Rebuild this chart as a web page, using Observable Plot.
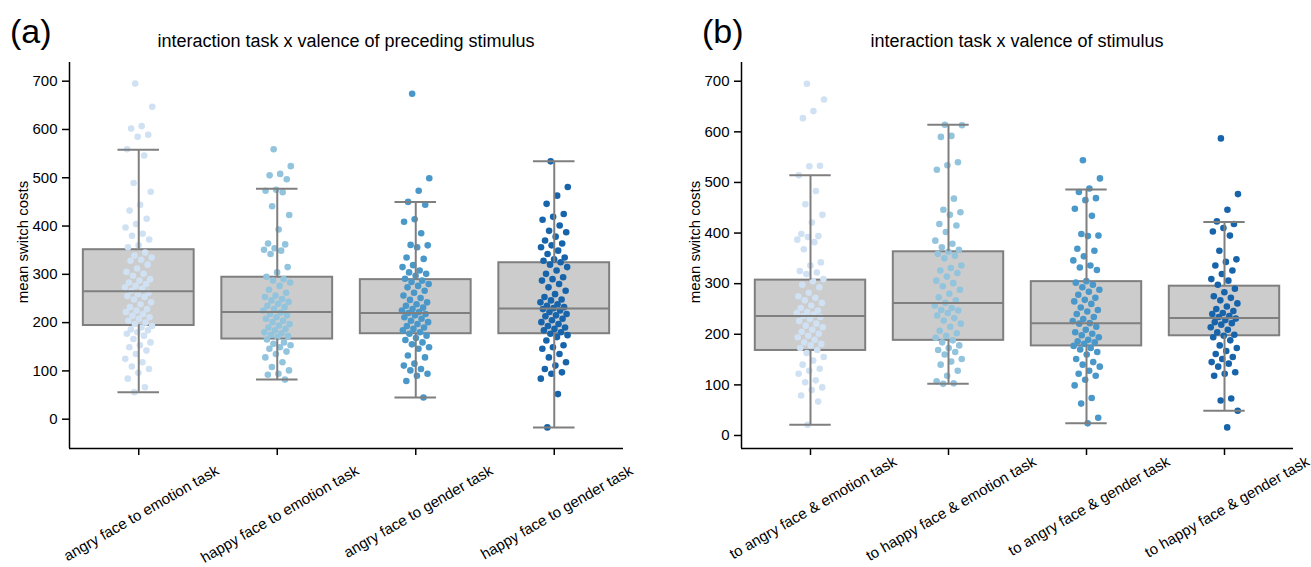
<!DOCTYPE html>
<html>
<head>
<meta charset="utf-8">
<script src="https://cdn.jsdelivr.net/npm/d3@7"></script>
<script src="https://cdn.jsdelivr.net/npm/@observablehq/plot@0.6"></script>
<style>
  body { margin: 0; background: #fff; }
  #wrap { position: relative; width: 1311px; height: 567px; overflow: hidden; background: #fff; }
  .panel { position: absolute; top: 0; }
</style>
</head>
<body>
<div id="wrap"><div class="panel" id="pa" style="left:0"></div><div class="panel" id="pb" style="left:655px"></div></div>
<script>
// ---------- data ----------
const yTicks = [0, 100, 200, 300, 400, 500, 600, 700];
const catsA = ["angry face to emotion task", "happy face to emotion task", "angry face to gender task", "happy face to gender task"];
const catsB = ["to angry face & emotion task", "to happy face & emotion task", "to angry face & gender task", "to happy face & gender task"];
const titleA = "interaction task x valence of preceding stimulus";
const titleB = "interaction task x valence of stimulus";
const yLabel = "mean switch costs";
const colors = ["#cfe1f2", "#93c4de", "#4a98c9", "#1764ab"];

// panel (a) points
const a1 = [695, 647, 607, 602, 589, 585, 559, 546, 489, 471, 444, 432, 415, 404, 397, 384, 380, 372, 360, 356, 345, 339, 335, 330, 328, 320, 312, 305, 301, 297, 290, 287, 283, 280, 276, 273, 270, 266, 262, 259, 255, 253, 248, 242, 238, 232, 228, 225, 222, 218, 214, 211, 208, 204, 200, 197, 193, 190, 186, 184, 180, 177, 173, 166, 159, 153, 149, 142, 135, 125, 118, 109, 104, 96, 84, 66, 56];
const a2 = [559, 524, 508, 505, 497, 475, 473, 470, 441, 423, 393, 364, 362, 354, 351, 349, 342, 315, 304, 295, 290, 287, 283, 276, 268, 262, 256, 253, 249, 246, 243, 239, 235, 232, 228, 225, 221, 218, 215, 211, 208, 204, 201, 197, 194, 190, 187, 184, 180, 178, 175, 172, 170, 165, 159, 156, 153, 149, 146, 140, 135, 128, 118, 108, 101, 94, 92, 82];
const a3 = [674, 499, 473, 450, 444, 414, 409, 385, 361, 360, 356, 335, 332, 319, 315, 308, 304, 301, 297, 291, 287, 284, 280, 276, 273, 266, 262, 256, 251, 247, 242, 238, 235, 231, 228, 225, 222, 220, 218, 215, 211, 208, 204, 201, 197, 193, 190, 187, 184, 180, 177, 173, 168, 164, 159, 155, 149, 146, 132, 128, 115, 111, 104, 101, 94, 90, 79, 45];
const a4 = [534, 481, 463, 446, 425, 419, 413, 401, 390, 387, 378, 370, 364, 360, 356, 349, 342, 335, 331, 328, 325, 320, 315, 308, 301, 294, 290, 287, 280, 273, 266, 259, 253, 248, 246, 242, 238, 235, 232, 230, 228, 225, 222, 218, 215, 213, 208, 205, 201, 197, 193, 190, 187, 184, 180, 177, 174, 170, 163, 153, 149, 146, 135, 128, 118, 111, 104, 97, 94, 84, 52, -17];
// panel (a) box statistics
const aLo  = [56, 82, 45, -17];
const aQ1  = [194, 166, 177, 177];
const aMed = [265, 222, 220, 229];
const aQ3  = [351, 294, 289, 324];
const aHi  = [558, 477, 450, 534];

// panel (b) points
const b1 = [695, 664, 641, 627, 533, 532, 514, 483, 457, 436, 421, 398, 394, 392, 387, 382, 368, 342, 336, 325, 322, 319, 309, 305, 298, 293, 282, 275, 272, 267, 262, 257, 252, 247, 244, 242, 239, 236, 234, 230, 226, 221, 217, 214, 209, 205, 201, 197, 194, 189, 184, 181, 178, 173, 169, 163, 155, 148, 140, 132, 128, 122, 109, 105, 95, 90, 79, 67, 21];
const b2 = [614, 613, 592, 590, 540, 534, 525, 468, 446, 441, 436, 418, 415, 402, 385, 379, 372, 367, 363, 359, 355, 350, 336, 331, 326, 321, 314, 306, 301, 295, 288, 280, 273, 267, 262, 257, 252, 248, 247, 242, 237, 232, 227, 221, 215, 207, 202, 197, 193, 188, 184, 178, 173, 169, 165, 160, 151, 146, 140, 128, 118, 107, 103, 102];
const b3 = [544, 508, 488, 481, 469, 465, 448, 434, 398, 395, 394, 369, 365, 354, 346, 336, 332, 327, 305, 302, 298, 293, 288, 284, 278, 272, 268, 265, 260, 253, 248, 245, 240, 234, 230, 226, 222, 221, 215, 209, 204, 201, 198, 194, 189, 186, 184, 181, 177, 173, 170, 165, 160, 151, 145, 140, 136, 128, 122, 118, 110, 99, 74, 63, 35, 24];
const b4 = [587, 477, 446, 423, 418, 410, 403, 395, 365, 348, 343, 336, 326, 319, 309, 306, 298, 290, 283, 275, 272, 267, 261, 255, 250, 246, 242, 240, 236, 234, 231, 228, 224, 222, 219, 214, 209, 204, 199, 197, 194, 188, 178, 173, 167, 161, 155, 151, 145, 142, 136, 125, 122, 118, 73, 69, 49, 16];
// panel (b) box statistics
const bLo  = [21, 102, 24, 49];
const bQ1  = [168, 188, 177, 197];
const bMed = [236, 262, 222, 232];
const bQ3  = [307, 363, 304, 295];
const bHi  = [514, 614, 486, 422];

// ---------- drawing ----------
const FONT = "'Liberation Sans', Arial, Helvetica, sans-serif";
const GRAY = "#7f7f7f";
const ctx = document.createElement("canvas").getContext("2d");
ctx.font = "15px 'Liberation Sans'";

// deterministic strip jitter (position only)
function jitter(i) { return (((i * 0.6180339887 + 0.37) % 1) - 0.5) * 0.2; }

function panel(cfg) {
  const pts = cfg.groups.flatMap((vals, g) => vals.map((v, i) => ({g, v, x: g + jitter(i), c: colors[g]})));
  const boxes = cfg.cats.map((c, g) => ({g, lo: cfg.lo[g], q1: cfg.q1[g], med: cfg.med[g], q3: cfg.q3[g], hi: cfg.hi[g]}));
  const labelMarks = cfg.cats.map((c, g) => {
    const L = ctx.measureText(c).width;
    return Plot.text([g], {x: d => d, frameAnchor: "bottom", text: () => c, rotate: -30,
      textAnchor: "middle", lineAnchor: "bottom", dx: 5, dy: cfg.labOff + 0.25 * L, fontSize: 15, fill: "#000"});
  });
  const lineStyle = {stroke: GRAY, strokeWidth: 2};
  const svg = Plot.plot({
    width: cfg.width, height: 567,
    marginLeft: cfg.marginLeft, marginRight: cfg.marginRight, marginTop: 62, marginBottom: 119,
    style: {fontFamily: FONT, fontSize: "15px", color: "#000", background: "transparent", overflow: "visible"},
    x: {domain: [-0.5, 3.5]},
    y: {domain: cfg.yDomain},
    color: {type: "identity"},
    marks: [
      Plot.rect(boxes, {x1: d => d.g - 0.4, x2: d => d.g + 0.4, y1: "q1", y2: "q3", fill: "#cccccc", stroke: GRAY, strokeWidth: 2}),
      Plot.dot(pts, {x: "x", y: "v", r: 3.3, fill: "c", stroke: "none"}),
      Plot.ruleX(boxes, {x: "g", y1: "q3", y2: "hi", ...lineStyle}),
      Plot.ruleX(boxes, {x: "g", y1: "lo", y2: "q1", ...lineStyle}),
      Plot.ruleY(boxes, {y: "hi", x1: d => d.g - 0.15, x2: d => d.g + 0.15, ...lineStyle}),
      Plot.ruleY(boxes, {y: "lo", x1: d => d.g - 0.15, x2: d => d.g + 0.15, ...lineStyle}),
      Plot.ruleY(boxes, {y: "med", x1: d => d.g - 0.4, x2: d => d.g + 0.4, ...lineStyle}),
      Plot.ruleX([-0.5], {stroke: "#000", strokeWidth: 1.5}),
      Plot.ruleY([cfg.yDomain[0]], {stroke: "#000", strokeWidth: 1.5}),
      Plot.axisY({ticks: yTicks, tickSize: 7, tickPadding: 5, fontSize: 15, strokeWidth: 1.5, label: null}),
      Plot.axisX({ticks: [0, 1, 2, 3], tickSize: 7, tickFormat: () => "", strokeWidth: 1.5, label: null}),
      ...labelMarks
    ]
  });
  const s = d3.select(svg);
  s.append("text").attr("x", cfg.tagX).attr("y", 43).attr("font-size", 34).attr("text-anchor", "start").attr("fill", "#000").text(cfg.tag);
  s.append("text").attr("x", cfg.titleX).attr("y", 47).attr("font-size", 18).attr("text-anchor", "middle").attr("fill", "#000").text(cfg.title);
  s.append("text").attr("transform", `translate(${cfg.ylabX},242) rotate(-90)`).attr("font-size", 15).attr("text-anchor", "middle").attr("fill", "#000").text(yLabel);
  return svg;
}

document.getElementById("pa").append(panel({
  cats: catsA, groups: [a1, a2, a3, a4], lo: aLo, q1: aQ1, med: aMed, q3: aQ3, hi: aHi,
  yDomain: [-60.7, 738.7], width: 655, marginLeft: 69, marginRight: 32, labOff: 25,
  tag: "(a)", tagX: 10, title: titleA, titleX: 346, ylabX: 28
}));
document.getElementById("pb").append(panel({
  cats: catsB, groups: [b1, b2, b3, b4], lo: bLo, q1: bQ1, med: bMed, q3: bQ3, hi: bHi,
  yDomain: [-25.7, 737], width: 656, marginLeft: 86, marginRight: 18, labOff: 16,
  tag: "(b)", tagX: 47, title: titleB, titleX: 362, ylabX: 45
}));
</script>
</body>
</html>
